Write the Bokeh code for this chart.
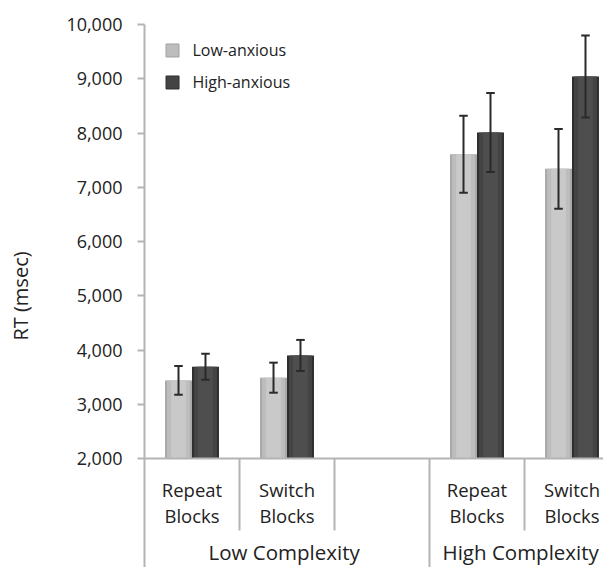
from bokeh.plotting import figure
from bokeh.models import Range1d, FixedTicker, NumeralTickFormatter, Span, ColumnDataSource
from bokeh.core.properties import value
from bokeh.embed import file_html
from bokeh.resources import INLINE

# ---- data ----
blocks = ["Repeat Blocks", "Switch Blocks", "Repeat Blocks", "Switch Blocks"]
complexity = ["Low Complexity", "High Complexity"]
slot_index = [0, 1, 3, 4]          # slot 2 is the empty slot of the low-complexity group
low_anx = [3440, 3490, 7610, 7340]
high_anx = [3690, 3900, 8010, 9040]
low_err = [267, 277, 710, 735]
high_err = [240, 286, 728, 756]
y_ticks = [2000, 3000, 4000, 5000, 6000, 7000, 8000, 9000, 10000]
series = ["Low-anxious", "High-anxious"]

FONT = "Open Sans"
BASE = 2000
BW = 0.284
YMIN = -9

p = figure(width=603, height=567, output_backend="svg", toolbar_location=None,
           x_range=Range1d(0, 459 / 95), y_range=Range1d(YMIN, 10000),
           x_axis_location=None, min_border_left=144, min_border_right=0,
           min_border_top=24, min_border_bottom=0)
p.outline_line_color = None
p.grid.visible = False
p.background_fill_color = "white"
p.border_fill_color = "white"

ax = p.yaxis[0]
ax.ticker = FixedTicker(ticks=y_ticks)
ax.formatter = NumeralTickFormatter(format="0,0")
ax.axis_line_color = "#b4b4b4"
ax.axis_line_width = 2
ax.major_tick_line_color = "#b4b4b4"
ax.major_tick_line_width = 2
ax.major_tick_out = 7
ax.major_tick_in = 0
ax.minor_tick_line_color = None
ax.major_label_standoff = 15
ax.major_label_text_font = FONT
ax.major_label_text_font_size = "18px"
ax.major_label_text_color = "#222222"
ax.axis_label = "RT (msec)"
ax.axis_label_text_font = FONT
ax.axis_label_text_font_style = "normal"
ax.axis_label_text_font_size = "20px"
ax.axis_label_text_color = "#222222"
ax.axis_label_standoff = 29

centers = [i + 0.5 for i in slot_index]
lx = [c - BW / 2 for c in centers]
hx = [c + BW / 2 for c in centers]

src = ColumnDataSource(dict(lx=lx, hx=hx, low=low_anx, high=high_anx,
                            llo=[v - e for v, e in zip(low_anx, low_err)],
                            lhi=[v + e for v, e in zip(low_anx, low_err)],
                            hlo=[v - e for v, e in zip(high_anx, high_err)],
                            hhi=[v + e for v, e in zip(high_anx, high_err)]))

# bars with simulated gradient layers
light_layers = [(1.0, "#a9a9a9"), (0.85, "#bdbdbd"), (0.55, "#c9c9c9")]
dark_layers = [(1.0, "#2e2e2e"), (0.85, "#444444"), (0.55, "#4e4e4e")]
for f, col in light_layers:
    p.vbar(x="lx", top="low", bottom=BASE, width=BW * f, source=src,
           fill_color=col, line_color=None)
for f, col in dark_layers:
    p.vbar(x="hx", top="high", bottom=BASE, width=BW * f, source=src,
           fill_color=col, line_color=None)

# error bars
cap = 0.045
for xc, lo, hi in (("lx", "llo", "lhi"), ("hx", "hlo", "hhi")):
    p.segment(x0=xc, y0=lo, x1=xc, y1=hi, source=src, line_color="#2a2a2a", line_width=2)
    xs = src.data[xc]
    for yk in (lo, hi):
        ys = src.data[yk]
        p.segment(x0=[x - cap for x in xs], y0=ys, x1=[x + cap for x in xs], y1=ys,
                  line_color="#2a2a2a", line_width=2)

# category axis
p.add_layout(Span(location=BASE, dimension="width", line_color="#b4b4b4", line_width=2))
short_sep = [1, 2, 4]
long_sep = [3]
p.segment(x0=short_sep, y0=[BASE] * 3, x1=short_sep, y1=[673] * 3,
          line_color="#b4b4b4", line_width=2)
p.segment(x0=long_sep, y0=[BASE], x1=long_sep, y1=[YMIN], line_color="#b4b4b4", line_width=2)

line1 = [b.split(" ")[0] for b in blocks]
line2 = [b.split(" ")[1] for b in blocks]
p.text(x=centers, y=[1428] * 4, text=line1, text_align="center", text_baseline="alphabetic",
       text_font=value(FONT), text_font_size="18.5px", text_color="#222222")
p.text(x=centers, y=[949] * 4, text=line2, text_align="center", text_baseline="alphabetic",
       text_font=value(FONT), text_font_size="18.5px", text_color="#222222")
p.text(x=[1.47, 3.96], y=[285, 285], text=complexity, text_align="center",
       text_baseline="alphabetic", text_font=value(FONT), text_font_size="20.5px",
       text_color="#222222")

# legend
p.scatter(x=[0.295, 0.295], y=[9521, 8931], marker="square", size=13,
          fill_color=["#bdbdbd", "#444444"], line_color=["#a0a0a0", "#2e2e2e"])
p.text(x=[0.505, 0.505], y=[9521, 8931], text=series, text_align="left",
       text_baseline="middle", text_font=value(FONT), text_font_size="16px",
       text_color="#222222")

open("out.html", "w").write(file_html(p, INLINE))
